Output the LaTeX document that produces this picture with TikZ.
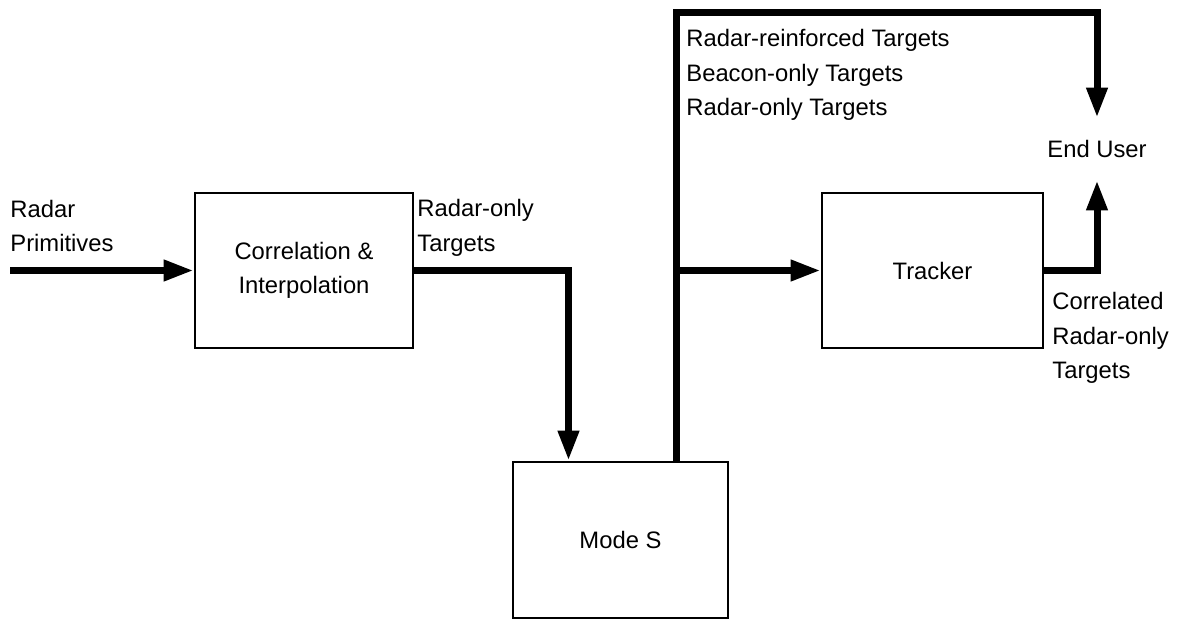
\documentclass[tikz,border=0pt]{standalone}
\usepackage{fontspec}
\setmainfont{Liberation Sans}
\usetikzlibrary{arrows.meta}
\begin{document}
\begin{tikzpicture}[x=0.5pt,y=-0.5pt,
	flow/.style={line width=3.5pt,-{Triangle[length=15pt,width=10pt]}},
	wire/.style={line width=3.5pt},
	lbl/.style={align=left,anchor=west,inner sep=0pt,font=\fontsize{11.9}{17.2}\selectfont}]
	\useasboundingbox (0,0) rectangle (1196,621);
	\begin{scope}[every node/.style={rectangle,draw,line width=1.4pt,align=center,font=\fontsize{11.9}{17.2}\selectfont}]
	\node[minimum width=109pt,minimum height=77.5pt] (corr) at (304,270.5) {Correlation \&\\Interpolation};
	\node[minimum width=107.5pt,minimum height=78pt] (modes) at (620.5,540) {Mode S};
	\node[minimum width=110.5pt,minimum height=77.5pt] (tracker) at (932.5,270.5) {Tracker};
	\end{scope}
	\node[minimum height=31pt,inner sep=0pt,font=\fontsize{11.9}{17.2}\selectfont] (user) at (1097,149) {End User};
	\node[lbl] (prim) at (10,226) {Radar\\Primitives};
	\node[lbl] (rotxt) at (417,228) {Radar-only\\Targets};
	\node[lbl] (feedtxt) at (686,75) {Radar-reinforced Targets\\Beacon-only Targets\\Radar-only Targets};
	\node[lbl] (cortxt) at (1052,338) {Correlated\\Radar-only\\Targets};
	\coordinate (src) at (10,270.5);
	\coordinate (junc) at ([xshift=28pt]modes.north |- tracker.west);
	\coordinate (topl) at ([xshift=28pt]modes.north |- 0,12);
	\draw[flow] (src) -- (corr.west);
	\draw[flow] (corr.east) -| ([xshift=-26pt]modes.north);
	\draw[flow] ([xshift=28pt]modes.north) -- (topl) -| (user.north);
	\draw[flow] (junc) -- (tracker.west);
	\draw[flow] (tracker.east) -| (user.south);
\end{tikzpicture}
\end{document}
